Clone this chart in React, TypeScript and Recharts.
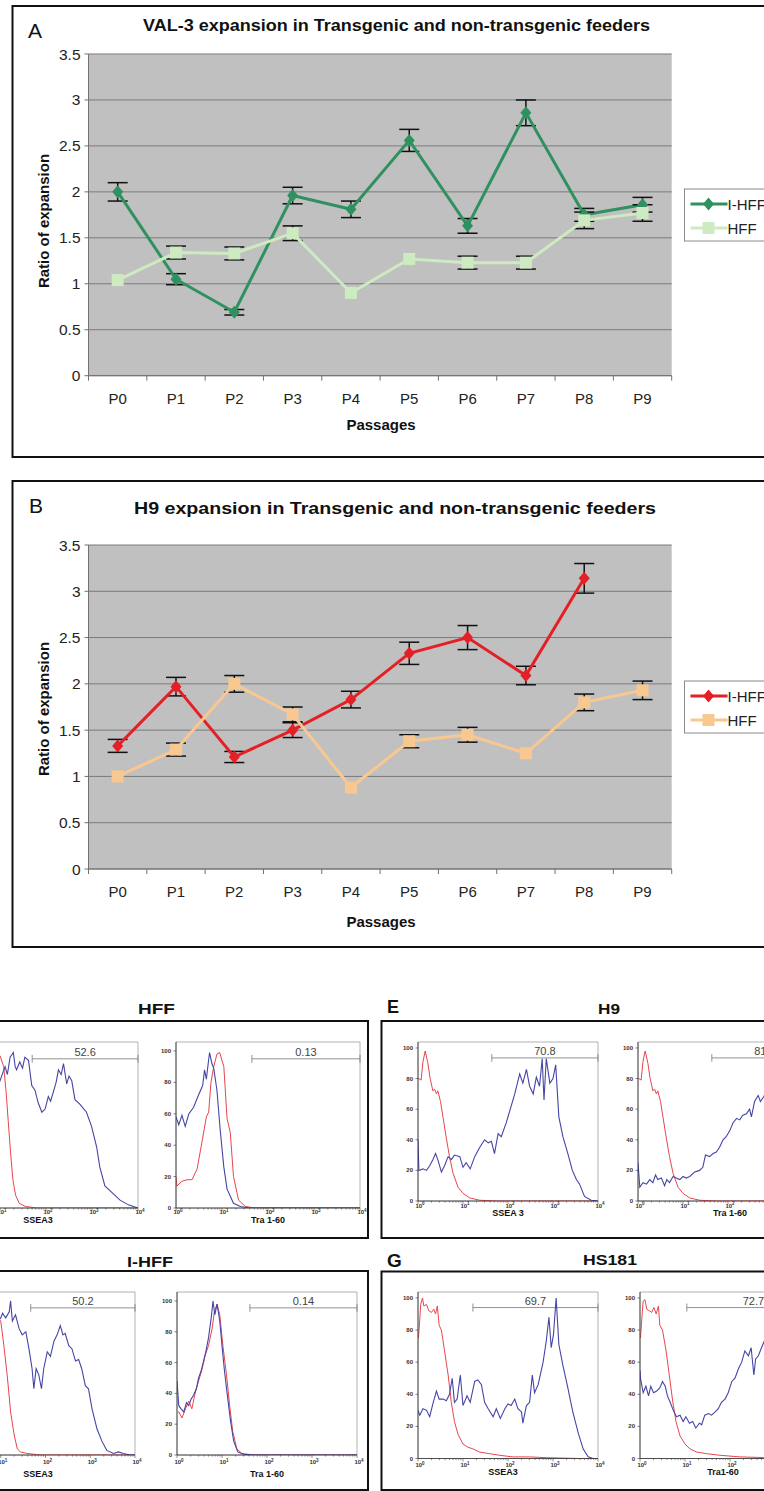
import React from 'react';
import { LineChart, Line, XAxis, YAxis, CartesianGrid, ErrorBar, ReferenceLine, ReferenceArea } from 'recharts';

const FONT = '"Liberation Sans", Arial, Helvetica, sans-serif';

// ---------- Panels A / B : ratio of expansion ----------
const passages = ['P0', 'P1', 'P2', 'P3', 'P4', 'P5', 'P6', 'P7', 'P8', 'P9'];
const ratioTicks = [0, 0.5, 1, 1.5, 2, 2.5, 3, 3.5];
const seriesNames = ['I-HFF', 'HFF'];

const val3IHff = [2.0, 1.05, 0.69, 1.96, 1.81, 2.56, 1.63, 2.86, 1.75, 1.86];
const val3IHffErr = [0.1, 0.06, 0.03, 0.09, 0.09, 0.12, 0.08, 0.14, 0.07, 0.08];
const val3Hff = [1.04, 1.34, 1.33, 1.55, 0.9, 1.27, 1.23, 1.23, 1.69, 1.77];
const val3HffErr = [null, 0.07, 0.07, 0.08, null, null, 0.07, 0.07, 0.09, 0.09];

const h9IHff = [1.33, 1.97, 1.21, 1.5, 1.83, 2.33, 2.5, 2.09, 3.14, null];
const h9IHffErr = [0.07, 0.1, 0.06, 0.08, 0.09, 0.12, 0.13, 0.1, 0.16, null];
const h9Hff = [1.0, 1.29, 2.0, 1.67, 0.88, 1.38, 1.45, 1.25, 1.8, 1.93];
const h9HffErr = [null, 0.07, 0.09, 0.08, null, 0.07, 0.08, null, 0.09, 0.1];

// ---------- Flow cytometry histograms: [log10 intensity, % of max] ----------
type Pt = [number, number];
const hffSseaIso: Pt[] = [[0.9, 95], [1.0, 97], [1.08, 90], [1.13, 75], [1.18, 55], [1.23, 35], [1.28, 18], [1.34, 8], [1.42, 3], [1.55, 1], [1.8, 0], [4, 0]];
const hffSseaAb: Pt[] = [[0.9, 76], [1.0, 81], [1.06, 86], [1.11, 90], [1.16, 85], [1.22, 96], [1.29, 99], [1.33, 90], [1.36, 88], [1.43, 93], [1.49, 89], [1.54, 96], [1.62, 94], [1.69, 78], [1.76, 75], [1.83, 67], [1.91, 61], [1.98, 63], [2.05, 71], [2.1, 68], [2.16, 74], [2.22, 80], [2.27, 88], [2.33, 85], [2.38, 92], [2.45, 79], [2.5, 84], [2.56, 81], [2.63, 69], [2.74, 66], [2.88, 61], [2.99, 52], [3.1, 39], [3.17, 26], [3.28, 14], [3.43, 10], [3.61, 5], [3.79, 2], [4, 0]];
const hffTraIso: Pt[] = [[0, 20], [0.02, 14], [0.13, 17], [0.24, 18], [0.35, 18], [0.46, 25], [0.57, 43], [0.66, 58], [0.71, 61], [0.76, 80], [0.82, 90], [0.89, 98], [0.95, 99], [1.04, 90], [1.11, 57], [1.18, 48], [1.25, 20], [1.36, 5], [1.51, 1], [1.7, 0], [4, 0]];
const hffTraAb: Pt[] = [[0, 58], [0.06, 53], [0.13, 59], [0.2, 52], [0.28, 60], [0.38, 64], [0.49, 72], [0.58, 78], [0.62, 88], [0.66, 82], [0.7, 92], [0.73, 99], [0.78, 92], [0.82, 89], [0.89, 75], [0.96, 50], [1.04, 26], [1.11, 12], [1.25, 3], [1.4, 1], [1.6, 0], [4, 0]];

const h9Iso: Pt[] = [[0, 80], [0.02, 80], [0.07, 79], [0.11, 91], [0.16, 98], [0.22, 90], [0.27, 80], [0.33, 72], [0.37, 73], [0.41, 70], [0.44, 72], [0.5, 65], [0.56, 54], [0.63, 41], [0.7, 29], [0.78, 18], [0.89, 9], [1.0, 5], [1.15, 2], [1.37, 0.5], [1.74, 0], [4, 0]];
const h9SseaAb: Pt[] = [[0, 40], [0.02, 20], [0.11, 21], [0.19, 20], [0.26, 23], [0.33, 27], [0.39, 31], [0.44, 27], [0.52, 19], [0.59, 23], [0.67, 29], [0.74, 27], [0.81, 30], [0.93, 29], [1.0, 22], [1.07, 25], [1.16, 21], [1.26, 29], [1.37, 35], [1.48, 40], [1.56, 38], [1.63, 39], [1.7, 31], [1.78, 44], [1.85, 42], [1.96, 51], [2.07, 62], [2.15, 70], [2.26, 83], [2.33, 77], [2.41, 86], [2.48, 75], [2.56, 70], [2.63, 81], [2.7, 75], [2.76, 93], [2.8, 66], [2.85, 93], [2.93, 77], [3.0, 80], [3.06, 89], [3.13, 55], [3.22, 42], [3.33, 31], [3.43, 20], [3.52, 14], [3.59, 11], [3.7, 3], [3.85, 0.5], [4, 0]];
const h9TraAb: Pt[] = [[0, 25], [0.04, 9], [0.11, 12], [0.19, 11], [0.26, 14], [0.33, 12], [0.39, 17], [0.44, 14], [0.52, 15], [0.59, 10], [0.64, 14], [0.7, 12], [0.78, 16], [0.85, 15], [0.93, 14], [1.0, 16], [1.07, 15], [1.15, 16], [1.26, 19], [1.37, 20], [1.44, 22], [1.5, 30], [1.59, 29], [1.67, 31], [1.74, 32], [1.81, 35], [1.89, 40], [1.96, 42], [2.04, 46], [2.11, 51], [2.19, 54], [2.26, 53], [2.33, 56], [2.41, 57], [2.48, 60], [2.52, 55], [2.59, 65], [2.67, 69], [2.72, 65], [2.79, 68], [2.9, 75], [3.05, 78], [3.25, 62], [3.45, 35], [3.65, 12], [3.85, 2], [4, 0]];

const ihffSseaIso: Pt[] = [[0.9, 90], [1.0, 87], [1.07, 71], [1.15, 50], [1.22, 28], [1.3, 13], [1.37, 4], [1.44, 2], [1.59, 1], [1.89, 0], [4, 0]];
const ihffSseaAb: Pt[] = [[0.9, 85], [1.0, 89], [1.04, 92], [1.11, 89], [1.19, 93], [1.22, 100], [1.26, 87], [1.33, 91], [1.41, 82], [1.48, 78], [1.56, 80], [1.63, 69], [1.7, 56], [1.74, 43], [1.79, 56], [1.85, 52], [1.91, 43], [1.96, 56], [2.04, 67], [2.11, 64], [2.19, 74], [2.26, 78], [2.33, 84], [2.39, 78], [2.44, 79], [2.52, 71], [2.59, 69], [2.67, 61], [2.74, 62], [2.81, 56], [2.89, 45], [2.96, 43], [3.04, 30], [3.15, 17], [3.26, 9], [3.37, 3], [3.52, 1], [3.63, 2], [3.74, 1], [3.89, 0], [4, 0]];
const ihffTraIso: Pt[] = [[0.02, 28], [0.04, 28], [0.11, 24], [0.19, 30], [0.26, 35], [0.33, 30], [0.41, 41], [0.48, 48], [0.56, 56], [0.63, 65], [0.7, 71], [0.78, 82], [0.83, 93], [0.89, 98], [0.95, 91], [1.02, 71], [1.1, 52], [1.17, 32], [1.24, 15], [1.33, 4], [1.44, 1], [1.7, 0], [4, 0]];
const ihffTraAb: Pt[] = [[0, 48], [0.04, 32], [0.09, 30], [0.15, 28], [0.21, 34], [0.26, 32], [0.31, 36], [0.37, 39], [0.43, 43], [0.48, 50], [0.53, 54], [0.59, 61], [0.64, 67], [0.7, 76], [0.76, 89], [0.8, 100], [0.84, 91], [0.89, 98], [0.95, 87], [1.0, 71], [1.05, 56], [1.11, 41], [1.19, 22], [1.26, 9], [1.35, 2], [1.48, 0.5], [1.7, 0], [4, 0]];

const hs181SseaIso: Pt[] = [[0.01, 75], [0.04, 87], [0.06, 96], [0.1, 100], [0.13, 95], [0.19, 96], [0.24, 92], [0.3, 91], [0.35, 93], [0.39, 90], [0.43, 95], [0.47, 83], [0.52, 80], [0.59, 67], [0.67, 52], [0.74, 35], [0.81, 23], [0.89, 15], [1.0, 9], [1.11, 7], [1.22, 6], [1.37, 4], [1.59, 3], [1.81, 2], [2.11, 1], [2.48, 1], [2.85, 0.5], [3.59, 0], [4, 0]];
const hs181SseaAb: Pt[] = [[0, 30], [0.04, 27], [0.11, 31], [0.19, 30], [0.26, 26], [0.33, 34], [0.41, 42], [0.47, 37], [0.56, 37], [0.63, 36], [0.7, 40], [0.76, 50], [0.81, 35], [0.87, 37], [0.94, 52], [1.0, 33], [1.09, 39], [1.16, 35], [1.26, 48], [1.33, 49], [1.41, 46], [1.48, 35], [1.56, 31], [1.67, 26], [1.74, 31], [1.83, 25], [1.93, 31], [2.0, 34], [2.07, 33], [2.15, 37], [2.22, 31], [2.3, 29], [2.33, 22], [2.41, 33], [2.48, 35], [2.54, 52], [2.59, 41], [2.67, 46], [2.78, 60], [2.85, 73], [2.91, 88], [2.96, 69], [3.01, 77], [3.07, 100], [3.13, 71], [3.22, 58], [3.33, 44], [3.44, 29], [3.56, 16], [3.67, 6], [3.78, 1], [3.89, 0], [4, 0]];
const hs181TraIso: Pt[] = [[0.01, 75], [0.04, 87], [0.07, 98], [0.11, 99], [0.15, 93], [0.21, 92], [0.26, 91], [0.31, 94], [0.36, 90], [0.41, 95], [0.44, 83], [0.5, 80], [0.58, 67], [0.65, 52], [0.73, 35], [0.8, 23], [0.89, 14], [1.0, 9], [1.11, 6], [1.26, 4], [1.48, 3], [1.78, 2], [2.22, 1], [2.74, 0.6], [4, 0]];
const hs181TraAb: Pt[] = [[0, 55], [0.01, 50], [0.07, 41], [0.13, 45], [0.19, 39], [0.24, 45], [0.3, 41], [0.37, 42], [0.44, 44], [0.5, 48], [0.56, 45], [0.61, 39], [0.67, 35], [0.74, 30], [0.81, 26], [0.89, 27], [0.96, 23], [1.02, 26], [1.1, 22], [1.17, 23], [1.24, 19], [1.32, 22], [1.37, 21], [1.44, 27], [1.52, 28], [1.59, 27], [1.67, 29], [1.74, 31], [1.81, 35], [1.89, 37], [1.96, 41], [2.04, 48], [2.11, 50], [2.19, 56], [2.26, 60], [2.33, 67], [2.41, 64], [2.47, 69], [2.53, 52], [2.57, 62], [2.63, 64], [2.7, 69], [2.76, 73], [2.9, 80], [3.1, 75], [3.4, 40], [3.7, 10], [4, 0]];

const countTicks = [0, 20, 40, 60, 80, 100];
const logTicks: number[] = [];
for (let k = 0; k < 4; k++) for (let m = 1; m < 10; m++) logTicks.push(k + Math.log10(m));
logTicks.push(4);

const GREEN = '#2f9160';
const LIGHT_GREEN = '#cdeac1';
const RED = '#e41f26';
const TAN = '#f9c890';
const ISO = '#e8454c';
const AB = '#4545a6';
const PAGE_W = 764;

function toRows(pts: Pt[]) {
  return pts.map(([d, v]) => ({ d, v }));
}

function buildRows(a: (number | null)[], ae: (number | null)[], b: (number | null)[], be: (number | null)[]) {
  return passages.map((p, i) => ({ p, ih: a[i], ihErr: ae[i], hf: b[i], hfErr: be[i] }));
}

function diamondDot(color: string) {
  return (props: any) => {
    const { cx, cy, index, value } = props;
    if (cx == null || cy == null || value == null || Number.isNaN(cy)) return <g key={`dd${index}`} />;
    return (
      <path key={`dd${index}`} d={`M${cx} ${cy - 6.5}L${cx + 5.5} ${cy}L${cx} ${cy + 6.5}L${cx - 5.5} ${cy}Z`} fill={color} />
    );
  };
}

function squareDot(color: string) {
  return (props: any) => {
    const { cx, cy, index, value } = props;
    if (cx == null || cy == null || value == null || Number.isNaN(cy)) return <g key={`sd${index}`} />;
    return <rect key={`sd${index}`} x={cx - 6} y={cy - 6} width={12} height={12} fill={color} />;
  };
}

function CatTick(props: any) {
  const { x, y, payload, index, bandW, count } = props;
  const half = bandW / 2;
  return (
    <g>
      <line x1={x - half} x2={x - half} y1={y} y2={y + 5} stroke="#707070" />
      {index === count - 1 ? <line x1={x + half} x2={x + half} y1={y} y2={y + 5} stroke="#707070" /> : null}
      <text x={x} y={y + 22.5} textAnchor="middle" dominantBaseline="central" fontSize={15} fontFamily={FONT} fill="#222">
        {payload.value}
      </text>
    </g>
  );
}

function RatioChart({ plotTop, plotBottom, rows, mainColor, lightColor }: any) {
  const mT = 10;
  const xh = 60;
  const mL = 28.5;
  const yw = 60;
  const W = PAGE_W;
  const mR = W - 671.7;
  const plotW = W - mL - yw - mR;
  const bandW = plotW / passages.length;
  const H = plotBottom - plotTop + mT + xh;
  return (
    <div style={{ position: 'absolute', left: 0, top: plotTop - mT }}>
      <LineChart width={W} height={H} data={rows} margin={{ top: mT, right: mR, left: mL, bottom: 0 }}>
        <CartesianGrid vertical={false} stroke="#7a7a7a" fill="#c0c0c0" />
        <XAxis
          dataKey="p"
          type="category"
          padding={{ left: bandW / 2, right: bandW / 2 }}
          height={xh}
          interval={0}
          tickSize={0}
          tickMargin={0}
          tickLine={false}
          axisLine={{ stroke: '#707070' }}
          tick={(p: any) => <CatTick {...p} bandW={bandW} count={passages.length} />}
        />
        <YAxis
          type="number"
          domain={[0, 3.5]}
          ticks={ratioTicks}
          interval={0}
          width={yw}
          tickSize={4}
          tickMargin={4}
          axisLine={{ stroke: '#707070' }}
          tickLine={{ stroke: '#707070' }}
          tick={{ fontSize: 15.5, fill: '#222', fontFamily: FONT }}
        />
        <Line dataKey="ih" name={seriesNames[0]} type="linear" stroke={mainColor} strokeWidth={3} dot={false} isAnimationActive={false}>
          <ErrorBar dataKey="ihErr" width={10} stroke="#111" strokeWidth={1.5} direction="y" />
        </Line>
        <Line dataKey="ih" name={`${seriesNames[0]} markers`} type="linear" stroke="none" legendType="none" dot={diamondDot(mainColor)} isAnimationActive={false} />
        <Line dataKey="hf" name={seriesNames[1]} type="linear" stroke={lightColor} strokeWidth={3} dot={false} isAnimationActive={false}>
          <ErrorBar dataKey="hfErr" width={10} stroke="#111" strokeWidth={1.5} direction="y" />
        </Line>
        <Line dataKey="hf" name={`${seriesNames[1]} markers`} type="linear" stroke="none" legendType="none" dot={squareDot(lightColor)} isAnimationActive={false} />
      </LineChart>
    </div>
  );
}

function LogTick(props: any) {
  const { x, y, payload, dyLabel, offsetX } = props;
  const v = payload.value;
  const major = Math.abs(v - Math.round(v)) < 1e-9;
  const pageX = x + offsetX;
  const showLabel = major && pageX > -4 && pageX < PAGE_W - 2;
  return (
    <g>
      <line x1={x} x2={x} y1={y} y2={y + (major ? 3 : 1.6)} stroke="#444" strokeWidth={0.6} />
      {showLabel ? (
        <text x={x + 2} y={y + dyLabel} textAnchor="middle" fontSize={6} fontWeight={700} fontFamily={FONT} fill="#333">
          10<tspan dy={-2.5} fontSize={4.5}>{Math.round(v)}</tspan>
        </text>
      ) : null}
    </g>
  );
}

function CountTick(props: any) {
  const { x, y, payload, offsetX } = props;
  if (x + offsetX < 8) return <g />;
  return (
    <text x={x} y={y} textAnchor="end" dominantBaseline="central" fontSize={6} fontWeight={700} fontFamily={FONT} fill="#333">
      {payload.value}
    </text>
  );
}

function Histo({ px, py, pw, ph, yTop, iso, ab, gate, gateY, gateLabel, tickDy }: any) {
  const mL = 30;
  const mT = 4;
  const mR = 12;
  const xh = 20;
  const offsetX = px - mL;
  return (
    <div style={{ position: 'absolute', left: offsetX, top: py - mT }}>
      <LineChart width={pw + mL + mR} height={ph + mT + xh} margin={{ top: mT, right: mR, left: 0, bottom: 0 }}>
        <XAxis
          type="number"
          dataKey="d"
          domain={[0, 4]}
          ticks={logTicks}
          interval={0}
          allowDataOverflow
          height={xh}
          tickSize={0}
          tickMargin={0}
          tickLine={false}
          axisLine={{ stroke: '#333', strokeWidth: 0.8 }}
          tick={(p: any) => <LogTick {...p} dyLabel={tickDy + 2.5} offsetX={offsetX} />}
        />
        <YAxis
          type="number"
          domain={[0, yTop]}
          ticks={countTicks}
          interval={0}
          allowDataOverflow
          width={mL}
          tickSize={2.5}
          tickMargin={2.5}
          axisLine={{ stroke: '#333', strokeWidth: 0.8 }}
          tickLine={{ stroke: '#333', strokeWidth: 0.6 }}
          tick={(p: any) => <CountTick {...p} offsetX={offsetX} />}
        />
        <ReferenceArea x1={0} x2={4} y1={0} y2={yTop} fill="#fff" fillOpacity={0} stroke="#a0a0a0" strokeWidth={0.8} />
        <ReferenceLine
          segment={[{ x: gate, y: gateY }, { x: 4, y: gateY }]}
          stroke="#777"
          strokeWidth={0.8}
          label={{ value: gateLabel, position: 'top', offset: 3, fontSize: 11, fill: '#444', fontFamily: FONT }}
        />
        <ReferenceLine segment={[{ x: gate, y: gateY - 2.5 }, { x: gate, y: gateY + 2.5 }]} stroke="#777" strokeWidth={0.8} />
        <ReferenceLine segment={[{ x: 4, y: gateY - 2.5 }, { x: 4, y: gateY + 2.5 }]} stroke="#777" strokeWidth={0.8} />
        <Line data={toRows(iso)} dataKey="v" type="linear" stroke={ISO} strokeWidth={1} dot={false} isAnimationActive={false} />
        <Line data={toRows(ab)} dataKey="v" type="linear" stroke={AB} strokeWidth={1.1} dot={false} isAnimationActive={false} />
      </LineChart>
    </div>
  );
}

function LegendBox({ x, y, c1, c2 }: any) {
  return (
    <g>
      <rect x={x} y={y} width={120} height={52} fill="#fff" stroke="#8a8a8a" strokeWidth={1} />
      <line x1={x + 6} x2={x + 43} y1={y + 15} y2={y + 15} stroke={c1} strokeWidth={3} />
      <path d={`M${x + 24} ${y + 8.5}L${x + 29.5} ${y + 15}L${x + 24} ${y + 21.5}L${x + 18.5} ${y + 15}Z`} fill={c1} />
      <text x={x + 43} y={y + 15} dominantBaseline="central" fontSize={15} fontFamily={FONT} fill="#222">{seriesNames[0]}</text>
      <line x1={x + 6} x2={x + 43} y1={y + 39} y2={y + 39} stroke={c2} strokeWidth={3} />
      <rect x={x + 18} y={y + 33} width={12} height={12} fill={c2} />
      <text x={x + 43} y={y + 39} dominantBaseline="central" fontSize={15} fontFamily={FONT} fill="#222">{seriesNames[1]}</text>
    </g>
  );
}

export default function App() {
  const rowsA = buildRows(val3IHff, val3IHffErr, val3Hff, val3HffErr);
  const rowsB = buildRows(h9IHff, h9IHffErr, h9Hff, h9HffErr);
  const bold = { fontFamily: FONT, fontWeight: 700, fill: '#111' } as any;
  return (
    <div style={{ position: 'absolute', left: 0, top: 0, width: PAGE_W, height: 1491, overflow: 'hidden', background: '#fff', fontFamily: FONT }}>
      <RatioChart plotTop={54} plotBottom={375.7} rows={rowsA} mainColor={GREEN} lightColor={LIGHT_GREEN} />
      <RatioChart plotTop={545} plotBottom={869} rows={rowsB} mainColor={RED} lightColor={TAN} />

      <Histo px={-46} py={1042} pw={184} ph={166} yTop={105.7} iso={hffSseaIso} ab={hffSseaAb} gate={1.7} gateY={95} gateLabel="52.6" tickDy={3.5} />
      <Histo px={176} py={1042} pw={184} ph={166} yTop={105.7} iso={hffTraIso} ab={hffTraAb} gate={1.65} gateY={95} gateLabel="0.13" tickDy={3.5} />
      <Histo px={418} py={1042} pw={180} ph={159} yTop={103.9} iso={h9Iso} ab={h9SseaAb} gate={1.64} gateY={93.5} gateLabel="70.8" tickDy={4} />
      <Histo px={638} py={1042} pw={180} ph={159} yTop={103.9} iso={h9Iso} ab={h9TraAb} gate={1.64} gateY={93.5} gateLabel="81.4" tickDy={4} />
      <Histo px={-44} py={1292} pw={179} ph={163} yTop={105.8} iso={ihffSseaIso} ab={ihffSseaAb} gate={1.67} gateY={95.5} gateLabel="50.2" tickDy={6.7} />
      <Histo px={177} py={1292} pw={180} ph={163} yTop={105.8} iso={ihffTraIso} ab={ihffTraAb} gate={1.62} gateY={95.5} gateLabel="0.14" tickDy={6.7} />
      <Histo px={418} py={1291.5} pw={180} ph={166.5} yTop={103.7} iso={hs181SseaIso} ab={hs181SseaAb} gate={1.22} gateY={94} gateLabel="69.7" tickDy={6} />
      <Histo px={640} py={1291.5} pw={180} ph={166.5} yTop={103.7} iso={hs181TraIso} ab={hs181TraAb} gate={1.04} gateY={94} gateLabel="72.7" tickDy={6} />

      <svg width={PAGE_W} height={1491} style={{ position: 'absolute', left: 0, top: 0, pointerEvents: 'none' }}>
        {/* Panel A */}
        <rect x={12.5} y={6} width={800} height={451} fill="none" stroke="#111" strokeWidth={2} />
        <text x={28} y={38} fontSize={21} fontFamily={FONT} fill="#111">A</text>
        <text x={396.5} y={30.5} textAnchor="middle" fontSize={16} textLength={507} lengthAdjust="spacingAndGlyphs" {...bold}>VAL-3 expansion in Transgenic and non-transgenic feeders</text>
        <text transform="translate(43,221) rotate(-90)" textAnchor="middle" dominantBaseline="central" fontSize={15} {...bold}>Ratio of expansion</text>
        <text x={381} y={424} textAnchor="middle" dominantBaseline="central" fontSize={15} {...bold}>Passages</text>
        <LegendBox x={684.5} y={189} c1={GREEN} c2={LIGHT_GREEN} />

        {/* Panel B */}
        <rect x={12.5} y={481} width={800} height={466} fill="none" stroke="#111" strokeWidth={2} />
        <text x={29} y={513} fontSize={21} fontFamily={FONT} fill="#111">B</text>
        <text x={395} y={513.5} textAnchor="middle" fontSize={16} textLength={522} lengthAdjust="spacingAndGlyphs" {...bold}>H9 expansion in Transgenic and non-transgenic feeders</text>
        <text transform="translate(43,709) rotate(-90)" textAnchor="middle" dominantBaseline="central" fontSize={15} {...bold}>Ratio of expansion</text>
        <text x={381} y={921} textAnchor="middle" dominantBaseline="central" fontSize={15} {...bold}>Passages</text>
        <LegendBox x={684.5} y={681} c1={RED} c2={TAN} />

        {/* Flow cytometry group boxes */}
        <rect x={-20} y={1021} width={388} height={217} fill="none" stroke="#111" strokeWidth={2} />
        <rect x={381.5} y={1021} width={420} height={217} fill="none" stroke="#111" strokeWidth={2} />
        <rect x={-20} y={1271} width={388} height={219} fill="none" stroke="#111" strokeWidth={2} />
        <rect x={381.5} y={1271.5} width={420} height={218.5} fill="none" stroke="#111" strokeWidth={2} />

        <text x={156.5} y={1014} textAnchor="middle" fontSize={15} textLength={37} lengthAdjust="spacingAndGlyphs" {...bold}>HFF</text>
        <text x={387} y={1013} fontSize={18} {...bold}>E</text>
        <text x={609} y={1014} textAnchor="middle" fontSize={15} textLength={22} lengthAdjust="spacingAndGlyphs" {...bold}>H9</text>
        <text x={150} y={1266.5} textAnchor="middle" fontSize={15} textLength={46} lengthAdjust="spacingAndGlyphs" {...bold}>I-HFF</text>
        <text x={387} y={1267} fontSize={19} {...bold}>G</text>
        <text x={610} y={1265} textAnchor="middle" fontSize={15} textLength={54} lengthAdjust="spacingAndGlyphs" {...bold}>HS181</text>

        <text x={38} y={1220} textAnchor="middle" dominantBaseline="central" fontSize={9} {...bold}>SSEA3</text>
        <text x={268} y={1220} textAnchor="middle" dominantBaseline="central" fontSize={9} {...bold}>Tra 1-60</text>
        <text x={508} y={1213} textAnchor="middle" dominantBaseline="central" fontSize={9} {...bold}>SSEA 3</text>
        <text x={730} y={1213} textAnchor="middle" dominantBaseline="central" fontSize={9} {...bold}>Tra 1-60</text>
        <text x={38} y={1474} textAnchor="middle" dominantBaseline="central" fontSize={9} {...bold}>SSEA3</text>
        <text x={267} y={1474} textAnchor="middle" dominantBaseline="central" fontSize={9} {...bold}>Tra 1-60</text>
        <text x={503} y={1472} textAnchor="middle" dominantBaseline="central" fontSize={9} {...bold}>SSEA3</text>
        <text x={723} y={1472} textAnchor="middle" dominantBaseline="central" fontSize={9} {...bold}>Tra1-60</text>
      </svg>
    </div>
  );
}
